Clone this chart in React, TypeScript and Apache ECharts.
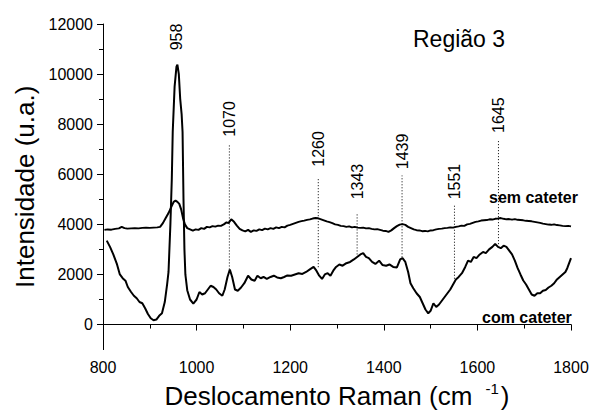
import React, { useEffect, useRef } from "react";
import * as echarts from "echarts";

// Raman shift (cm-1) and intensity (u.a.) - "sem cateter"
const semX = [803, 810, 818, 826, 834, 840, 846, 852, 860, 868, 876, 884, 892, 900, 908, 916, 922, 928, 934, 940, 946, 951, 955, 959, 963, 967, 971, 975, 980, 986, 992, 998, 1004, 1010, 1016, 1022, 1028, 1034, 1040, 1046, 1052, 1058, 1064, 1068, 1074, 1080, 1086, 1092, 1098, 1104, 1110, 1116, 1122, 1128, 1134, 1140, 1146, 1152, 1158, 1164, 1170, 1176, 1182, 1188, 1194, 1200, 1206, 1212, 1218, 1224, 1230, 1236, 1242, 1248, 1254, 1260, 1266, 1272, 1278, 1284, 1290, 1296, 1302, 1308, 1314, 1320, 1326, 1332, 1338, 1344, 1350, 1356, 1362, 1368, 1374, 1380, 1386, 1392, 1398, 1404, 1410, 1416, 1422, 1428, 1434, 1440, 1446, 1452, 1458, 1464, 1470, 1476, 1482, 1488, 1494, 1500, 1506, 1512, 1518, 1524, 1530, 1536, 1542, 1548, 1554, 1560, 1566, 1572, 1578, 1584, 1590, 1596, 1602, 1608, 1614, 1620, 1626, 1632, 1638, 1644, 1650, 1656, 1662, 1668, 1674, 1680, 1686, 1692, 1698, 1704, 1710, 1716, 1722, 1728, 1734, 1740, 1746, 1752, 1758, 1764, 1770, 1776, 1782, 1788, 1794, 1800];
const semY = [3780, 3800, 3790, 3820, 3840, 3900, 3850, 3830, 3840, 3850, 3840, 3860, 3870, 3860, 3870, 3880, 3900, 4050, 4250, 4450, 4700, 4900, 4950, 4900, 4820, 4600, 4250, 4000, 3850, 3800, 3750, 3800, 3780, 3850, 3820, 3900, 3880, 3930, 3910, 3950, 3940, 4000, 4080, 4050, 4200, 4100, 3950, 3820, 3760, 3720, 3780, 3700, 3760, 3740, 3800, 3770, 3830, 3800, 3850, 3820, 3880, 3850, 3900, 3880, 3950, 3980, 4020, 4060, 4100, 4130, 4150, 4180, 4200, 4230, 4250, 4240, 4200, 4160, 4120, 4090, 4050, 4000, 3980, 3940, 3930, 3900, 3920, 3880, 3900, 3870, 3860, 3870, 3840, 3850, 3820, 3800, 3810, 3780, 3750, 3740, 3700, 3760, 3850, 3930, 3990, 4010, 3980, 3900, 3850, 3800, 3770, 3760, 3730, 3740, 3720, 3760, 3770, 3800, 3820, 3830, 3850, 3860, 3880, 3870, 3900, 3920, 3950, 3940, 4000, 4020, 4060, 4100, 4120, 4150, 4160, 4170, 4200, 4190, 4220, 4230, 4250, 4220, 4200, 4210, 4190, 4210, 4180, 4170, 4160, 4140, 4130, 4120, 4100, 4080, 4060, 4030, 4010, 3990, 3980, 4000, 3970, 3960, 3940, 3930, 3940, 3920];

// "com cateter"
const comX = [808, 815, 822, 830, 836, 842, 848, 853, 860, 866, 872, 878, 884, 890, 896, 902, 908, 914, 920, 926, 932, 937, 940, 944, 947, 949, 953, 957, 959, 962, 965, 968, 970, 972, 974, 976, 980, 986, 993, 1000, 1006, 1012, 1018, 1024, 1030, 1036, 1042, 1048, 1055, 1060, 1066, 1071, 1076, 1082, 1088, 1095, 1102, 1110, 1117, 1124, 1130, 1137, 1143, 1150, 1158, 1165, 1172, 1180, 1187, 1194, 1202, 1210, 1218, 1226, 1234, 1242, 1250, 1256, 1262, 1268, 1274, 1280, 1286, 1292, 1298, 1305, 1312, 1320, 1328, 1336, 1343, 1350, 1356, 1362, 1368, 1375, 1382, 1390, 1397, 1405, 1412, 1420, 1428, 1435, 1440, 1446, 1452, 1457, 1463, 1470, 1477, 1483, 1489, 1495, 1500, 1506, 1512, 1518, 1524, 1530, 1536, 1542, 1548, 1554, 1560, 1567, 1574, 1580, 1586, 1592, 1598, 1605, 1612, 1618, 1625, 1632, 1638, 1644, 1650, 1656, 1662, 1668, 1674, 1680, 1686, 1692, 1698, 1704, 1710, 1716, 1722, 1728, 1734, 1740, 1746, 1752, 1758, 1764, 1770, 1776, 1782, 1788, 1792, 1796, 1800];
const comY = [3350, 3100, 2800, 2400, 2000, 1850, 1750, 1500, 1300, 1150, 1050, 900, 850, 650, 420, 250, 170, 200, 350, 450, 900, 1600, 2100, 4000, 5800, 7700, 9500, 10300, 10380, 10000, 9000, 8400, 7700, 5000, 3000, 2000, 1370, 1000, 840, 1000, 1300, 1200, 1250, 1400, 1550, 1500, 1400, 1250, 1150, 1400, 1900, 2200, 1900, 1400, 1350, 1480, 1650, 1950, 1800, 1750, 1950, 1850, 1900, 1820, 1900, 1950, 1880, 1850, 1900, 1960, 1950, 2000, 2050, 2020, 2100, 2200, 2300, 2150, 1950, 1820, 2000, 2050, 1950, 2150, 2300, 2400, 2350, 2450, 2500, 2600, 2700, 2800, 2850, 2700, 2650, 2500, 2420, 2550, 2380, 2350, 2400, 2300, 2280, 2600, 2650, 2500, 2100, 1650, 1450, 1250, 1100, 850, 600, 450, 550, 850, 700, 800, 950, 1100, 1250, 1400, 1600, 1800, 1900, 2050, 2300, 2550, 2500, 2700, 2650, 2800, 2900, 2850, 3000, 3100, 3220, 3100, 3050, 3150, 3100, 2950, 2800, 2550, 2250, 2000, 1760, 1600, 1400, 1200, 1150, 1250, 1250, 1350, 1380, 1480, 1550, 1650, 1800, 1900, 2000, 2100, 2250, 2450, 2650];

// peak annotations
const peakLabels = [958, 1070, 1260, 1343, 1439, 1551, 1645];
const peakLabelY = [10950, 7500, 6300, 5000, 6200, 5000, 7650];
const markerX = [1070, 1260, 1343, 1439, 1551, 1645];
const markerTop = [7230, 5880, 4460, 5950, 4780, 7350];
const markerBottom = [2200, 2290, 2800, 2685, 1830, 3210];

const yTicks = [0, 2000, 4000, 6000, 8000, 10000, 12000];
const yMinorTicks = [1000, 3000, 5000, 7000, 9000, 11000];

const FONT = "'Liberation Sans', Arial, sans-serif";

export default function App() {
  const ref = useRef<HTMLDivElement>(null);
  useEffect(() => {
    if (!ref.current) return;
    const chart = echarts.init(ref.current, null, { renderer: "svg" });
    const zip = (xs: number[], ys: number[]) => xs.map((x, i) => [x, ys[i]]);
    const markerSeries = markerX.map((x, i) => ({
      type: "line",
      data: [[x, markerBottom[i]], [x, markerTop[i]]],
      symbol: "none",
      silent: true,
      lineStyle: { color: "#000", width: 1, type: [1, 2] },
      z: 1,
    }));
    chart.setOption({
      animation: false,
      textStyle: { fontFamily: FONT },
      grid: { left: 103, right: 21, top: 24, bottom: 61 },
      xAxis: {
        type: "value",
        min: 800,
        max: 1800,
        interval: 200,
        name: "{a|Deslocamento Raman (cm }{s|-1}{a|)}",
        nameLocation: "middle",
        nameGap: 27,
        nameTextStyle: {
          rich: {
            a: { fontSize: 26, fontFamily: FONT, color: "#000" },
            s: { fontSize: 15, fontFamily: FONT, color: "#000", padding: [0, 2, 16, 6] },
          },
        },
        axisLine: { lineStyle: { color: "#000", width: 1 } },
        axisTick: { show: true, length: 6, lineStyle: { color: "#000" } },
        minorTick: { show: true, splitNumber: 2, length: 4, lineStyle: { color: "#000" } },
        axisLabel: { fontSize: 16, color: "#000", margin: 10, fontFamily: FONT, formatter: (v: number) => String(v) },
        splitLine: { show: false },
      },
      yAxis: [
        {
          type: "value",
          min: -1000,
          max: 12000,
          name: "Intensidade (u.a.)",
          nameLocation: "middle",
          nameGap: 63,
          nameTextStyle: { fontSize: 26, color: "#000", fontFamily: FONT },
          axisLine: { show: true, lineStyle: { color: "#000", width: 1 } },
          axisTick: { show: true, length: 6, customValues: yTicks, lineStyle: { color: "#000" } },
          axisLabel: { fontSize: 16, color: "#000", margin: 10, customValues: yTicks, fontFamily: FONT, formatter: (v: number) => String(v) },
          splitLine: { show: false },
        },
        {
          type: "value",
          min: -1000,
          max: 12000,
          position: "left",
          axisLine: { show: false },
          axisTick: { show: true, length: 4, customValues: yMinorTicks, lineStyle: { color: "#000" } },
          axisLabel: { show: false },
          splitLine: { show: false },
        },
      ],
      series: [
        ...markerSeries,
        {
          type: "line",
          name: "sem cateter",
          data: zip(semX, semY),
          symbol: "none",
          lineStyle: { color: "#000", width: 2 },
          z: 3,
        },
        {
          type: "line",
          name: "com cateter",
          data: zip(comX, comY),
          symbol: "none",
          lineStyle: { color: "#000", width: 2 },
          z: 3,
        },
        {
          type: "scatter",
          data: peakLabels.map((x, i) => [x, peakLabelY[i]]),
          symbolSize: 0,
          itemStyle: { color: "#000" },
          silent: true,
          label: {
            show: true,
            position: "inside",
            rotate: 90,
            align: "left",
            verticalAlign: "middle",
            fontSize: 16,
            color: "#000",
            opacity: 1,
            textBorderWidth: 0,
            fontFamily: FONT,
            formatter: (p: any) => String(p.value[0]),
          },
        },
      ],
      graphic: [
        { type: "text", left: 413, top: 27, style: { text: "Região 3", fontSize: 23, fill: "#000", fontFamily: FONT } },
        { type: "text", left: 489, top: 189, style: { text: "sem cateter", fontSize: 16, fontWeight: "bold", fill: "#000", fontFamily: FONT } },
        { type: "text", left: 482, top: 309, style: { text: "com cateter", fontSize: 16, fontWeight: "bold", fill: "#000", fontFamily: FONT } },
      ],
    });
    return () => chart.dispose();
  }, []);
  return <div ref={ref} style={{ width: 592, height: 414, position: "absolute", left: 0, top: 0 }} />;
}
